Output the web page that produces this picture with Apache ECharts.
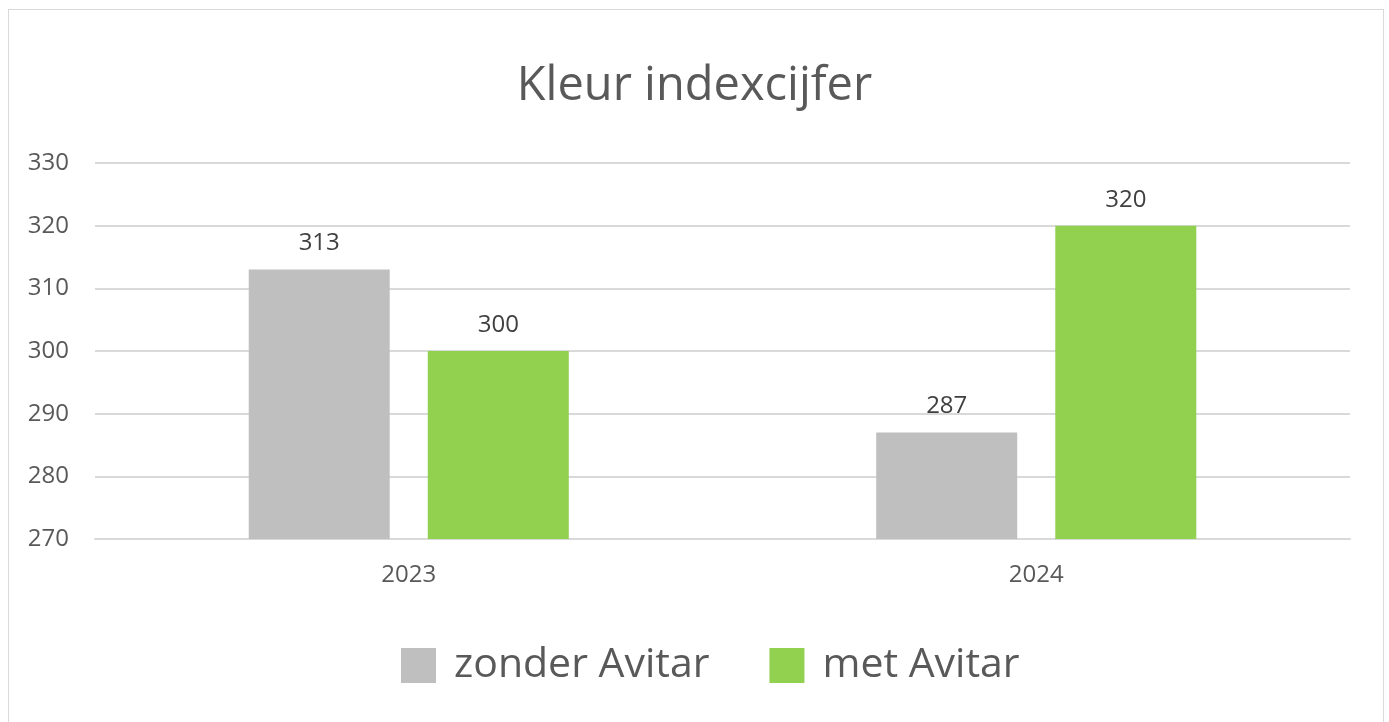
<!DOCTYPE html>
<html>
<head>
<meta charset="utf-8">
<script src="https://cdn.jsdelivr.net/npm/echarts@6/dist/echarts.min.js"></script>
<style>
html,body{margin:0;padding:0;background:#fff;}
#frame{position:absolute;left:8px;top:9px;width:1376px;height:740px;border:1px solid #d9d9d9;box-sizing:border-box;}
#c{position:absolute;left:0;top:0;width:1389px;height:722px;}
</style>
</head>
<body>
<div id="frame"></div>
<div id="c"></div>
<script>
const titleText = 'Kleur indexcijfer';
const categories = ['2023', '2024'];
const seriesNames = ['zonder Avitar', 'met Avitar'];
const zonderAvitar = [313, 287];
const metAvitar = [300, 320];
const yTicks = [270, 280, 290, 300, 310, 320, 330];
const colors = ['#bfbfbf', '#92d050'];

const chart = echarts.init(document.getElementById('c'), null, {renderer: 'canvas'});
const font = "'Open Sans', 'Noto Sans', sans-serif";
const textColor = '#595959';
const labelStyle = {show: true, position: 'top', distance: 14, color: '#404040', fontSize: 24, fontFamily: font};
chart.setOption({
  backgroundColor: 'transparent',
  animation: false,
  title: {
    text: titleText, left: 'center', top: 58,
    textStyle: {fontFamily: font, fontSize: 47, fontWeight: 'normal', color: textColor}
  },
  legend: {
    data: seriesNames, top: 640, left: 396,
    itemWidth: 35, itemHeight: 35, itemGap: 60,
    textStyle: {fontFamily: font, fontSize: 41, color: textColor, padding: [0, 0, 0, 13]},
    icon: 'rect'
  },
  grid: {left: 95, right: 39, top: 163, bottom: 183, containLabel: false},
  xAxis: {
    type: 'category', data: categories,
    axisLine: {show: true, lineStyle: {color: '#d9d9d9', width: 2}},
    axisTick: {show: false},
    axisLabel: {fontFamily: font, fontSize: 24, color: textColor, margin: 24}
  },
  yAxis: {
    type: 'value', min: yTicks[0], max: yTicks[yTicks.length - 1], interval: 10,
    axisLine: {show: false}, axisTick: {show: false},
    axisLabel: {fontFamily: font, fontSize: 24, color: textColor, margin: 26},
    splitLine: {lineStyle: {color: '#d9d9d9', width: 2}}
  },
  series: [
    {name: seriesNames[0], type: 'bar', data: zonderAvitar, barWidth: 141, barGap: '27%',
     itemStyle: {color: colors[0]}, label: labelStyle},
    {name: seriesNames[1], type: 'bar', data: metAvitar, barWidth: 141,
     itemStyle: {color: colors[1]}, label: labelStyle}
  ]
});
</script>
</body>
</html>
